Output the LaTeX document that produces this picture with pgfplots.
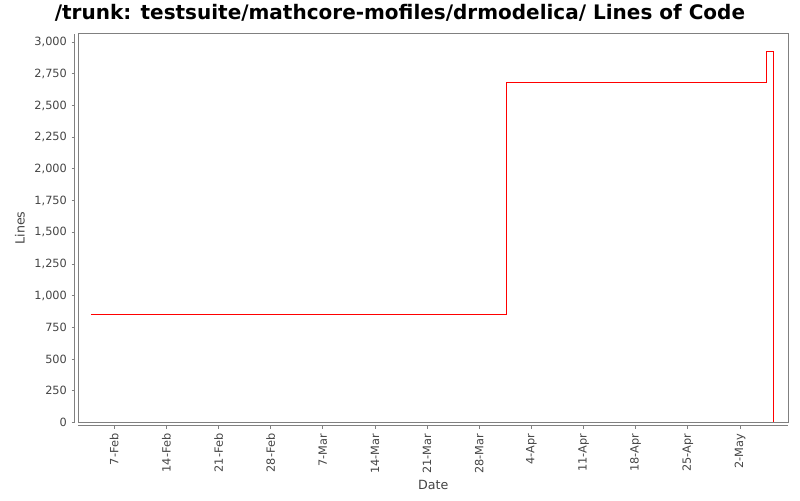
\documentclass[border=0pt]{standalone}
\usepackage{pgfplots}
\pgfplotsset{compat=1.18}
\usepackage{fontspec}
\setmainfont{DejaVu Sans}
\definecolor{framegray}{RGB}{128,128,128}
\definecolor{labelgray}{RGB}{68,68,68}
\begin{document}
\begin{tikzpicture}
\useasboundingbox (0,0) rectangle (600pt,375pt);
\begin{axis}[
    at={(58.7pt,58.3pt)}, anchor=south west,
    scale only axis,
    width=532.5pt, height=291.4pt,
    xmin=-4.83, xmax=90.48,
    ymin=0, ymax=3067,
    axis lines*=left,
    axis line style={framegray, line width=0.75pt, -},
    axis x line shift=2.5pt,
    axis y line shift=2.5pt,
    tick align=outside,
    major tick length=2.5pt,
    tick style={framegray, line width=0.6pt},
    xtick={0,7,...,84},
    xticklabels={7-Feb,14-Feb,21-Feb,28-Feb,7-Mar,14-Mar,21-Mar,28-Mar,4-Apr,11-Apr,18-Apr,25-Apr,2-May},
    ytick={0,250,...,3000},
    x tick label style={rotate=90, anchor=east, font=\fontsize{8.5pt}{10pt}\selectfont, text=labelgray},
    y tick label style={font=\fontsize{8.5pt}{10pt}\selectfont, text=labelgray},
    /pgf/number format/.cd, fixed, 1000 sep={,}, assume math mode=true,
    /pgfplots/.cd,
    xlabel={Date}, ylabel={Lines},
    x label style={at={(axis description cs:0.5,-0.1614)}, anchor=center, font=\fontsize{9.5pt}{11pt}\selectfont, text=labelgray},
    y label style={at={(axis description cs:-0.0821,0.5)}, anchor=center, font=\fontsize{9.5pt}{11pt}\selectfont, text=labelgray},
    clip=false,
    after end axis/.code={
        \draw[framegray, line width=0.75pt] (rel axis cs:0,0) rectangle (rel axis cs:1,1);
    },
]
\addplot[red, line width=0.75pt] coordinates {
    (-3.13, 847) (52.6, 847) (52.6, 2684) (87.58, 2684)
    (87.58, 2929) (88.5, 2929) (88.5, 0)
};
\end{axis}
\node[font=\bfseries\fontsize{15pt}{18pt}\selectfont] at (300pt, 365.25pt) {/trunk: testsuite/mathcore-mofiles/drmodelica/ Lines of Code};
\end{tikzpicture}
\end{document}
